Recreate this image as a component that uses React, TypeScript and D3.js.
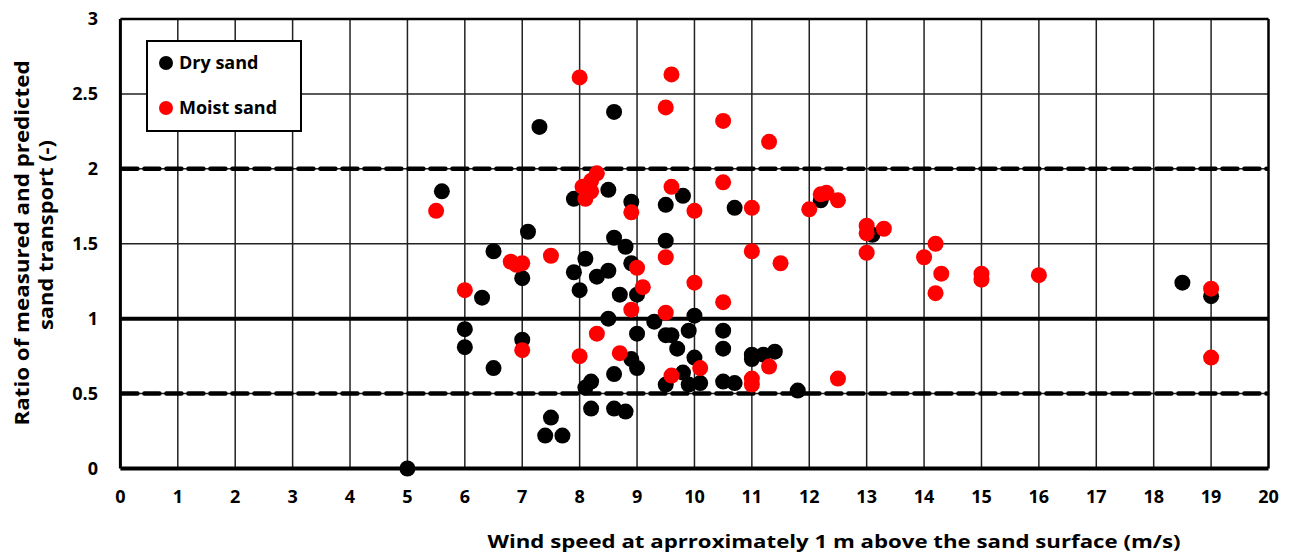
import React from "react";
import * as d3 from "d3";

const W = 1289;
const H = 556;

// Dry sand: [wind speed (m/s), ratio]
const drySand: [number, number][] = [
  [5.0, 0.0], [5.6, 1.85], [6.0, 0.93], [6.0, 0.81], [6.3, 1.14], [6.5, 1.45], [6.5, 0.67],
  [7.0, 1.27], [7.1, 1.58], [7.0, 0.86], [7.3, 2.28], [7.4, 0.22], [7.5, 0.34], [7.7, 0.22],
  [7.9, 1.8], [7.9, 1.31], [8.0, 1.19], [8.1, 1.4], [8.1, 0.54], [8.2, 0.58], [8.2, 0.4],
  [8.3, 1.28], [8.5, 1.32], [8.5, 1.86], [8.5, 1.0], [8.6, 2.38], [8.6, 1.54], [8.6, 0.63],
  [8.6, 0.4], [8.8, 0.38], [8.7, 1.16], [8.8, 1.48], [8.9, 1.78], [8.9, 1.37], [9.0, 1.16],
  [8.9, 0.73], [9.0, 0.67], [9.0, 0.9], [9.3, 0.98], [9.5, 0.89], [9.6, 0.89], [9.5, 1.76],
  [9.5, 1.52], [9.8, 1.82], [9.5, 0.56], [9.7, 0.8], [9.8, 0.64], [9.9, 0.56], [10.1, 0.57],
  [9.9, 0.92], [10.0, 1.02], [10.0, 0.74], [10.5, 0.92], [10.5, 0.8], [10.5, 0.58], [10.7, 0.57],
  [10.7, 1.74], [11.0, 0.76], [11.0, 0.73], [11.2, 0.76], [11.4, 0.78], [11.8, 0.52], [12.2, 1.79],
  [13.1, 1.56], [18.5, 1.24], [19.0, 1.15],
];

// Moist sand: [wind speed (m/s), ratio]
const moistSand: [number, number][] = [
  [5.5, 1.72], [6.0, 1.19], [6.8, 1.38], [6.9, 1.36], [7.0, 1.37], [7.0, 0.79], [7.5, 1.42],
  [8.0, 2.61], [8.0, 0.75], [8.05, 1.88], [8.1, 1.8], [8.2, 1.85], [8.2, 1.92], [8.3, 1.97],
  [8.3, 0.9], [8.7, 0.77], [8.9, 1.71], [8.9, 1.06], [9.0, 1.34], [9.1, 1.21], [9.5, 2.41],
  [9.6, 2.63], [9.6, 1.88], [9.5, 1.41], [9.5, 1.04], [9.6, 0.62], [10.0, 1.72], [10.0, 1.24],
  [10.1, 0.67], [10.5, 2.32], [10.5, 1.91], [10.5, 1.11], [11.0, 1.74], [11.0, 1.45], [11.0, 0.6],
  [11.0, 0.56], [11.3, 2.18], [11.3, 0.68], [11.5, 1.37], [12.0, 1.73], [12.2, 1.83], [12.3, 1.84],
  [12.5, 1.79], [12.5, 0.6], [13.0, 1.62], [13.0, 1.57], [13.0, 1.44], [13.3, 1.6], [14.0, 1.41],
  [14.2, 1.5], [14.3, 1.3], [14.2, 1.17], [15.0, 1.3], [15.0, 1.26], [16.0, 1.29], [19.0, 1.2],
  [19.0, 0.74],
];

const xTicks = d3.range(0, 21, 1);
const yTicks = [0, 0.5, 1, 1.5, 2, 2.5, 3];
const yTickLabels = ["0", "0.5", "1", "1.5", "2", "2.5", "3"];
const dashedLevels = [0.5, 2];
const solidLevel = 1;

const xTitle = "Wind speed at aprroximately 1 m above the sand surface (m/s)";
const yTitle1 = "Ratio of measured and predicted";
const yTitle2 = "sand transport (-)";
const legendLabels = ["Dry sand", "Moist sand"];
const colors = ["#000000", "#ff0000"];

const FONT = "'Open Sans', 'DejaVu Sans', sans-serif";

export default function App() {
  const left = 120.4, right = 1268.5, top = 19, bottom = 468.5;
  const x = d3.scaleLinear().domain([0, 20]).range([left, right]);
  const y = d3.scaleLinear().domain([0, 3]).range([bottom, top]);
  const r = 8;

  return (
    <svg width={W} height={H} style={{ position: "absolute", left: 0, top: 0, background: "#fff" }}>
      <rect x={0} y={0} width={W} height={H} fill="#fff" />
      {/* vertical gridlines */}
      {xTicks.slice(1, -1).map((t) => (
        <line key={"vx" + t} x1={x(t)} x2={x(t)} y1={y(3)} y2={y(0)} stroke="#222" strokeWidth={1.5} />
      ))}
      {/* horizontal gridlines */}
      {yTicks.slice(1, -1).map((t) => (
        <line key={"hy" + t} x1={x(0)} x2={x(20)} y1={y(t)} y2={y(t)} stroke="#222" strokeWidth={1.5} />
      ))}
      {/* dashed reference lines */}
      {dashedLevels.map((t) => (
        <line key={"d" + t} x1={x(0) + 2} x2={x(20) - 2} y1={y(t)} y2={y(t)} stroke="#000"
          strokeWidth={4.5} strokeDasharray="15 7" strokeLinecap="round" />
      ))}
      {/* solid 1:1 line */}
      <line x1={x(0)} x2={x(20)} y1={y(solidLevel)} y2={y(solidLevel)} stroke="#000" strokeWidth={4} />
      {/* plot border */}
      <line x1={x(0)} x2={x(20)} y1={y(3)} y2={y(3)} stroke="#000" strokeWidth={2.5} />
      <line x1={x(0)} x2={x(0)} y1={y(3)} y2={y(0)} stroke="#000" strokeWidth={3} />
      <line x1={x(20)} x2={x(20)} y1={y(3)} y2={y(0)} stroke="#000" strokeWidth={2.5} />
      <line x1={x(0)} x2={x(20)} y1={y(0)} y2={y(0)} stroke="#000" strokeWidth={4} />

      {/* points */}
      {drySand.map((d, i) => (
        <circle key={"dry" + i} cx={x(d[0])} cy={y(d[1])} r={r} fill={colors[0]} />
      ))}
      {moistSand.map((d, i) => (
        <circle key={"moist" + i} cx={x(d[0])} cy={y(d[1])} r={r} fill={colors[1]} />
      ))}

      {/* y tick labels */}
      {yTicks.map((t, i) => (
        <text key={"yl" + t} x={98} y={y(t)} dy="0.35em" textAnchor="end" fontFamily={FONT}
          fontWeight={700} fontSize={18}>{yTickLabels[i]}</text>
      ))}
      {/* x tick labels */}
      {xTicks.map((t) => (
        <text key={"xl" + t} x={x(t)} y={497} dy="0.35em" textAnchor="middle" fontFamily={FONT}
          fontWeight={700} fontSize={18}>{t}</text>
      ))}
      {/* axis titles */}
      <text x={834} y={542} dy="0.35em" textAnchor="middle" fontFamily={FONT} fontWeight={700}
        fontSize={18.5} textLength={693} lengthAdjust="spacingAndGlyphs">{xTitle}</text>
      <g transform="translate(22,243) rotate(-90)">
        <text x={0} y={0} dy="0.35em" textAnchor="middle" fontFamily={FONT} fontWeight={700}
          fontSize={19} textLength={365} lengthAdjust="spacingAndGlyphs">{yTitle1}</text>
      </g>
      <g transform="translate(46,235) rotate(-90)">
        <text x={0} y={0} dy="0.35em" textAnchor="middle" fontFamily={FONT} fontWeight={700}
          fontSize={19} textLength={190} lengthAdjust="spacingAndGlyphs">{yTitle2}</text>
      </g>

      {/* legend */}
      <rect x={147} y={41} width={154} height={90} fill="#fff" stroke="#000" strokeWidth={2} />
      {legendLabels.map((lab, i) => (
        <g key={lab}>
          <circle cx={166} cy={63 + i * 45} r={7} fill={colors[i]} />
          <text x={179} y={63 + i * 45} dy="0.35em" fontFamily={FONT} fontWeight={700} fontSize={18}>{lab}</text>
        </g>
      ))}
    </svg>
  );
}
